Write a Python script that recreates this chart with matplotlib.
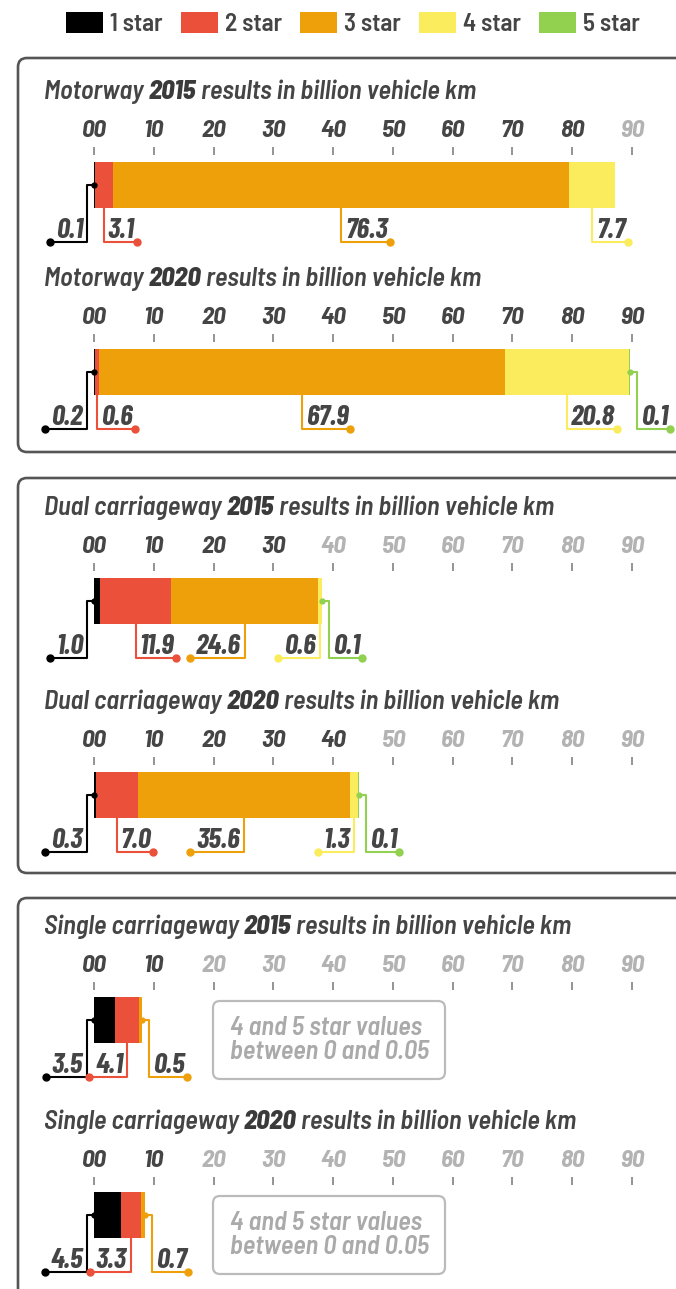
import matplotlib.pyplot as plt
from matplotlib.patches import FancyBboxPatch, Patch

stars = ['1 star', '2 star', '3 star', '4 star', '5 star']
star_colors = ['#000000', '#ea503a', '#eda00a', '#fbec5d', '#92d050']

road_types = ['Motorway', 'Motorway', 'Dual carriageway', 'Dual carriageway',
              'Single carriageway', 'Single carriageway']
years = ['2015', '2020', '2015', '2020', '2015', '2020']

# billion vehicle km per star rating (1..5)
motorway_2015 = [0.1, 3.1, 76.3, 7.7]
motorway_2020 = [0.2, 0.6, 67.9, 20.8, 0.1]
dual_2015 = [1.0, 11.9, 24.6, 0.6, 0.1]
dual_2020 = [0.3, 7.0, 35.6, 1.3, 0.1]
single_2015 = [3.5, 4.1, 0.5]
single_2020 = [4.5, 3.3, 0.7]

axis_ticks = [0, 10, 20, 30, 40, 50, 60, 70, 80, 90]
tick_labels = ['00', '10', '20', '30', '40', '50', '60', '70', '80', '90']
last_dark_tick = [80, 90, 30, 40, 10, 10]
note_text = '4 and 5 star values\nbetween 0 and 0.05'

panels = [motorway_2015, motorway_2020, dual_2015, dual_2020, single_2015, single_2020]

# leader line kinds: L = out of left side, R = out of right side,
# dr / dl = down from bar then to the right / left
leader_kinds = [['L', 'dr', 'dr', 'dr'],
                ['L', 'dr', 'dr', 'dr', 'R'],
                ['L', 'dr', 'dl', 'dl', 'R'],
                ['L', 'dr', 'dl', 'dl', 'R'],
                ['L', 'dl', 'R'],
                ['L', 'dl', 'R']]

W, H = 676, 1289
X0, PX_PER = 94, 5.978
PX = 1 / PX_PER
bar_tops = [162, 349, 578, 772, 997, 1192]
box_spans = [(58, 452), (478, 873), (898, 1320)]
BAR_H = 46

FONT = ['Barlow Condensed', 'Liberation Sans']
FONT_W = ['Barlow Semi Condensed', 'Barlow Condensed', 'Liberation Sans']
DARK = '#454545'
GREY = '#b3b3b3'

fig = plt.figure(figsize=(W / 100, H / 100), dpi=100)
bg = fig.add_axes([0, 0, 1, 1])
bg.set_xlim(0, W)
bg.set_ylim(H, 0)
bg.axis('off')
ax = fig.add_axes([0, 0, 1, 1])
ax.set_xlim(-X0 * PX, (W - X0) * PX)
ax.set_ylim(H, 0)
ax.axis('off')
ax.patch.set_alpha(0)
renderer = fig.canvas.get_renderer()

for top, bottom in box_spans:
    bg.add_patch(FancyBboxPatch((18, top), 720, bottom - top,
                                boxstyle='round,pad=0,rounding_size=9',
                                fc='white', ec='#555555', lw=1.9, clip_on=False))


def leader(kind, xs, ys, line_y, label, color):
    if kind == 'L':
        xv = xs - 7 * PX
        pts = [(xs, ys), (xv, ys), (xv, line_y)]
    elif kind == 'R':
        xv = xs + 7 * PX
        pts = [(xs, ys), (xv, ys), (xv, line_y)]
    else:
        xv = xs
        pts = [(xs, ys), (xv, line_y)]
    right = kind in ('R', 'dr')
    t = ax.text(xv + (4 if right else -4) * PX, line_y - 4, label,
                ha='left' if right else 'right', va='baseline',
                family=FONT, size=21, style='italic', weight=700, color=DARK)
    w = t.get_window_extent(renderer).width
    xe = xv + ((w + 6) if right else -(w + 10)) * PX
    pts.append((xe, line_y))
    ax.plot([p[0] for p in pts], [p[1] for p in pts], color=color, lw=1.5,
            solid_joinstyle='round', solid_capstyle='round', zorder=3)
    ax.plot(xe, line_y, 'o', color=color, ms=5, zorder=4)
    if kind in ('L', 'R'):
        ax.plot(xs, ys, 'o', color=color, ms=3.5, zorder=4)


for i, vals in enumerate(panels):
    top = bar_tops[i]
    # title with heavier year
    t = bg.text(44, top - 70, road_types[i] + ' ', ha='left', va='center',
                family=FONT_W, size=19, style='italic', weight=600, color=DARK)
    t = bg.annotate(years[i], xy=(1, 0), xycoords=t, ha='left', va='bottom',
                    family=FONT_W, size=19, style='italic', weight=800, color='#3a3a3a')
    bg.annotate(' results in billion vehicle km', xy=(1, 0), xycoords=t, ha='left',
                va='bottom', family=FONT_W, size=19, style='italic', weight=600, color=DARK)

    for tk, lab in zip(axis_ticks, tick_labels):
        ax.text(tk, top - 31, lab, ha='center', va='center', family=FONT_W, size=18,
                style='italic', weight=700,
                color=DARK if tk <= last_dark_tick[i] else GREY)
    ax.vlines(axis_ticks, top - 15, top - 7, color='#777777', lw=1.1)

    lefts = [sum(vals[:k]) for k in range(len(vals))]
    ax.barh(top + BAR_H / 2, vals, left=lefts, height=BAR_H,
            color=star_colors[:len(vals)], lw=0, zorder=2)

    total = sum(vals)
    line_y = top + 80
    for k, v in enumerate(vals):
        kind = leader_kinds[i][k]
        if kind == 'L':
            xs, ys = 0, top + BAR_H / 2
        elif kind == 'R':
            xs, ys = total, top + BAR_H / 2
        else:
            xs, ys = lefts[k] + v / 2, top + BAR_H
        leader(kind, xs, ys, line_y, '%.1f' % v, star_colors[k])

    if i >= 4:
        bg.add_patch(FancyBboxPatch((213, top + 4), 232, 78,
                                    boxstyle='round,pad=0,rounding_size=7',
                                    fc='white', ec='#bbbbbb', lw=1.6))
        bg.text(230, top + 43, note_text, ha='left', va='center', family=FONT_W,
                size=19, style='italic', weight=600, color='#aaaaaa', linespacing=0.95)

handles = [Patch(facecolor=c, edgecolor='none', label=s) for s, c in zip(stars, star_colors)]
fig.legend(handles=handles, ncol=5, loc='center', bbox_to_anchor=(353 / W, 1 - 24 / H),
           frameon=False, prop=dict(family=FONT_W, weight=600, size=18),
           labelcolor=DARK, handlelength=1.48, handleheight=0.9,
           handletextpad=0.28, columnspacing=0.72, borderpad=0, borderaxespad=0)

fig.savefig('out.png', dpi=100)
